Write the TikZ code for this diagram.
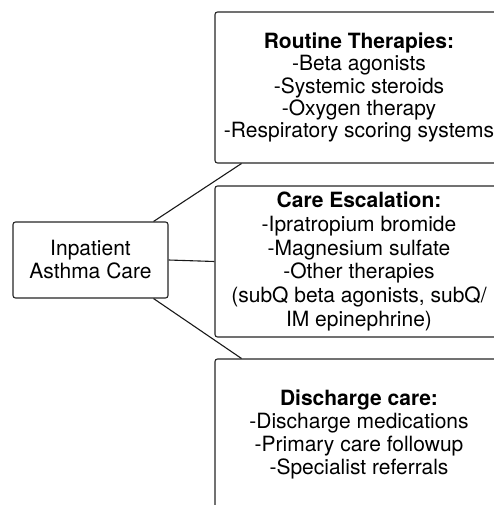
\documentclass[tikz,border=0pt]{standalone}
\usepackage{fontspec}
\setmainfont{TeX Gyre Heros}
\usetikzlibrary{calc}
\begin{document}
\begin{tikzpicture}[x=1pt,y=-1pt,
  box/.style={draw=black!85, line width=1.1pt, rounded corners=2.5pt, fill=white, align=center, inner sep=0pt},
  conn/.style={draw=black!90, line width=1.1pt}]
\clip (0,0) rectangle (494,505);
\node[box, minimum width=155pt, minimum height=76pt, font=\fontsize{21}{23}\selectfont] (inp) at (90.5,260) {Inpatient\\Asthma Care};
\node[box, minimum width=288pt, minimum height=151pt, font=\fontsize{21}{22.3}\selectfont] (top) at (359,87.5) {\textbf{Routine Therapies:}\\-Beta agonists\\-Systemic steroids\\-Oxygen therapy\\-Respiratory scoring systems};
\node[box, minimum width=288pt, minimum height=151pt, font=\fontsize{21}{23.7}\selectfont] (mid) at (359,261.5) {\textbf{Care Escalation:}\\-Ipratropium bromide\\-Magnesium sulfate\\-Other therapies\\(subQ beta agonists, subQ/\\IM epinephrine)};
\node[box, minimum width=288pt, minimum height=151pt, font=\fontsize{21}{22.7}\selectfont] (bot) at (359,434.5) {\textbf{Discharge care:}\\-Discharge medications\\-Primary care followup\\-Specialist referrals};
\draw[conn] ([xshift=-15pt]inp.north east) -- ([xshift=27pt]top.south west);
\draw[conn] (inp.east) -- (mid.west);
\draw[conn] ([xshift=-15pt]inp.south east) -- ([xshift=27pt]bot.north west);
\end{tikzpicture}
\end{document}
